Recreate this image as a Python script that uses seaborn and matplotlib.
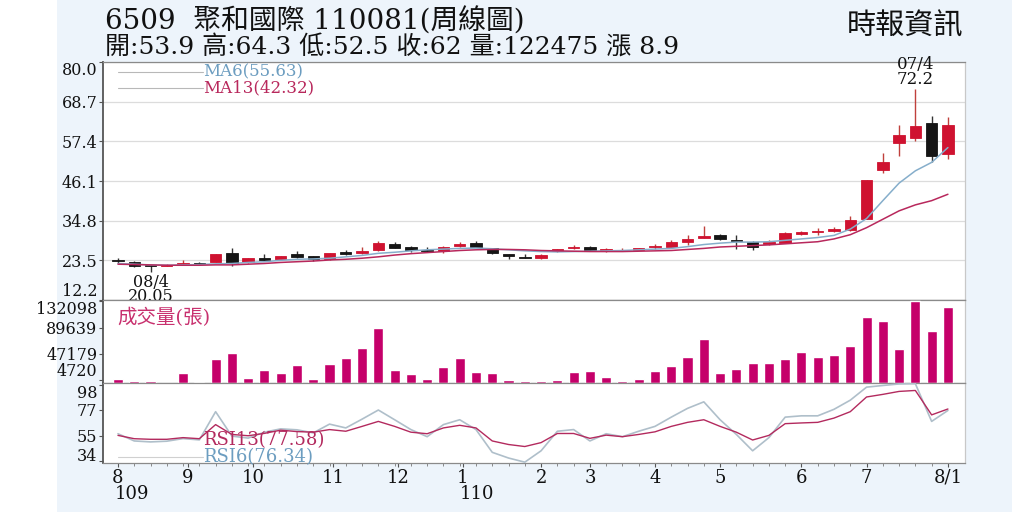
import numpy as np
import pandas as pd
import seaborn as sns
import matplotlib.pyplot as plt
from matplotlib.patches import Rectangle
from matplotlib.transforms import blended_transform_factory

# weekly candles, 6509 聚和國際 (109/08 ~ 110/08)
opens = [23.6, 22.9, 22.1, 22.0, 22.4, 22.7, 23.1, 25.5, 23.1, 24.3,
         23.9, 25.2, 24.6, 23.8, 25.9, 25.5, 26.4, 28.1, 27.4, 26.4,
         26.1, 27.6, 28.3, 26.9, 25.2, 24.5, 24.1, 26.1, 27.0, 27.2,
         26.1, 26.3, 26.5, 27.2, 27.4, 28.8, 30.0, 30.8, 29.4, 28.8,
         28.1, 28.5, 30.9, 31.5, 31.9, 32.1, 35.4, 49.3, 56.8, 58.3,
         62.5, 53.9]
highs = [24.2, 23.3, 22.3, 22.4, 23.5, 22.9, 25.3, 26.9, 24.2, 25.2,
         24.8, 26.2, 24.7, 25.6, 26.5, 27.2, 29.0, 28.8, 27.6, 27.2,
         27.6, 28.8, 29.0, 27.1, 25.4, 25.3, 25.2, 26.8, 27.8, 27.6,
         26.9, 26.9, 27.1, 28.2, 29.3, 30.8, 33.3, 31.0, 30.6, 29.1,
         29.4, 31.5, 31.8, 32.8, 33.0, 36.0, 46.5, 54.0, 62.0, 72.2,
         64.5, 64.3]
lows = [22.8, 21.5, 20.05, 21.8, 22.2, 22.3, 23.0, 22.0, 22.6, 23.3,
        23.8, 24.2, 23.4, 23.6, 25.0, 25.3, 26.3, 26.9, 25.9, 26.0,
        25.6, 27.3, 27.2, 25.4, 23.8, 24.2, 23.9, 26.0, 26.6, 26.1,
        25.9, 26.1, 26.4, 26.8, 27.3, 27.9, 29.8, 29.3, 26.7, 26.4,
        27.9, 28.3, 30.7, 30.6, 31.6, 31.9, 35.2, 48.3, 53.1, 57.6,
        51.4, 52.5]
closes = [23.4, 22.0, 21.8, 22.2, 22.6, 22.5, 25.3, 22.6, 24.1, 23.5,
          24.7, 24.4, 24.0, 25.5, 25.2, 26.2, 28.3, 27.1, 26.5, 26.2,
          27.4, 28.1, 27.4, 25.5, 24.6, 24.3, 25.0, 26.6, 27.1, 26.4,
          26.7, 26.4, 26.9, 27.4, 28.6, 29.5, 30.4, 29.5, 28.9, 27.4,
          28.8, 31.3, 31.5, 31.6, 32.5, 35.1, 46.4, 51.6, 59.2, 61.7,
          53.1, 62.0]
ma6 = [22.6, 22.4, 22.2, 22.1, 22.2, 22.3, 22.5, 22.6, 22.9, 23.1,
       23.5, 23.8, 23.9, 24.1, 24.5, 24.9, 25.5, 25.8, 26.2, 26.5,
       26.7, 26.9, 27.0, 26.8, 26.5, 26.2, 26.0, 25.9, 26.0, 26.1,
       26.2, 26.3, 26.5, 26.7, 26.9, 27.4, 28.0, 28.4, 28.7, 28.7,
       28.8, 29.2, 29.6, 30.0, 30.6, 32.4, 35.4, 40.5, 45.5, 49.0,
       51.4, 55.63]
ma13 = [22.4, 22.3, 22.2, 22.1, 22.1, 22.1, 22.2, 22.2, 22.4, 22.6,
        22.9, 23.1, 23.3, 23.6, 23.8, 24.1, 24.5, 25.0, 25.4, 25.7,
        26.0, 26.3, 26.5, 26.6, 26.6, 26.5, 26.3, 26.2, 26.1, 26.0,
        26.0, 26.0, 26.1, 26.2, 26.3, 26.6, 26.9, 27.3, 27.5, 27.7,
        27.9, 28.2, 28.5, 28.8, 29.6, 30.8, 32.8, 35.2, 37.6, 39.3,
        40.5, 42.32]
volume = [6600, 3800, 2700, 600, 17000, 1000, 39100, 49000, 7600, 20300,
          17000, 29200, 6600, 30900, 40800, 57300, 88700, 21000, 14400, 6600,
          26400, 40100, 18200, 17000, 5000, 3800, 2700, 5000, 17600, 19300,
          10500, 2700, 6100, 19800, 27000, 42900, 71500, 16000, 23100, 31900,
          32500, 38500, 50600, 42400, 45100, 60500, 107300, 100200, 55000, 132098,
          84800, 122475]
rsi13 = [55.3, 52.5, 52.0, 52.0, 53.4, 52.5, 64.4, 56.1, 55.0, 57.0,
         59.7, 58.5, 58.0, 60.2, 58.8, 62.9, 67.1, 62.9, 58.0, 56.7,
         61.6, 63.8, 61.6, 50.6, 47.6, 45.9, 49.2, 56.9, 56.9, 52.8,
         55.5, 54.2, 56.1, 58.3, 62.9, 66.3, 68.5, 62.9, 58.0, 51.4,
         55.3, 65.2, 65.8, 66.3, 69.9, 75.3, 87.7, 89.9, 92.4, 93.2,
         72.6, 77.58]
rsi6 = [56.7, 50.6, 49.8, 50.4, 52.6, 51.5, 75.3, 54.7, 53.0, 58.0,
        60.8, 60.0, 57.4, 64.8, 61.6, 69.0, 76.7, 68.5, 60.2, 54.2,
        64.4, 68.5, 60.2, 41.0, 36.2, 32.7, 42.3, 58.8, 60.2, 50.6,
        56.7, 54.2, 58.8, 62.9, 70.7, 78.1, 83.6, 68.5, 56.1, 42.3,
        53.4, 70.7, 71.8, 71.8, 77.3, 85.0, 96.0, 97.4, 98.7, 98.9,
        67.1, 76.34]

price_ticks = [12.2, 23.5, 34.8, 46.1, 57.4, 68.7, 80.0]
vol_ticks = [4720, 47179, 89639, 132098]
rsi_ticks = [34, 55, 77, 98]
month_pos = [0, 4.3, 8.3, 13.2, 17.2, 21.2, 26, 29, 33, 37, 42, 46, 51]
month_labels = ['8', '9', '10', '11', '12', '1', '2', '3', '4', '5', '6', '7', '8/1']
year_marks = [(0, '109'), (21.2, '110')]

low_date = '08/4'
high_date = '07/4'

df = pd.DataFrame({'o': opens, 'h': highs, 'l': lows, 'c': closes,
                   'ma6': ma6, 'ma13': ma13, 'vol': volume,
                   'rsi13': rsi13, 'rsi6': rsi6})
df['i'] = np.arange(len(df))

RED = '#CF1230'
BLACK = '#151515'
VOLC = '#C5006A'
MA6C = '#86AECB'
MA13C = '#B8285C'
RSI6C = '#AFBFCA'
RSI13C = '#B32A5E'
LBLUE = '#6C9DC0'

sns.set_theme(style='white')
plt.rcParams['font.family'] = ['DejaVu Serif', 'Noto Sans CJK TC']

fig = plt.figure(figsize=(10.24, 5.12), dpi=100)
fig.patch.set_facecolor('white')
fig.add_artist(Rectangle((57 / 1024, 0), 955 / 1024, 1, transform=fig.transFigure,
                         facecolor='#EDF4FB', edgecolor='none', zorder=0))

L, W = 103 / 1024, 862 / 1024
ax1 = fig.add_axes([L, 1 - 300 / 512, W, 238 / 512])
ax2 = fig.add_axes([L, 1 - 383 / 512, W, 83 / 512])
ax3 = fig.add_axes([L, 1 - 463 / 512, W, 80 / 512])

# candles
up = df['c'] >= df['o']
colors = np.where(up, RED, BLACK)
wick = np.where(up, '#C0403C', '#333333')
ax1.vlines(df['i'], df['l'], df['h'], colors=wick, lw=1.0, zorder=2)
body_h = np.maximum((df['c'] - df['o']).abs(), 0.25)
ax1.bar(df['i'], body_h, bottom=np.minimum(df['o'], df['c']), width=0.7,
        color=colors, edgecolor=colors, lw=0.6, zorder=3)
sns.lineplot(data=df, x='i', y='ma6', ax=ax1, color=MA6C, lw=1.1, zorder=4)
sns.lineplot(data=df, x='i', y='ma13', ax=ax1, color=MA13C, lw=1.1, zorder=4)

# min / max notes
imin = int(df['l'].idxmin())
imax = int(df['h'].idxmax())
ax1.annotate(f"{low_date}\n{df['l'][imin]:.2f}", (imin, df['l'][imin]),
             xytext=(0, -1), textcoords='offset points', ha='center', va='top',
             fontsize=11.5, color='#111111', linespacing=0.78)
ax1.annotate(f"{high_date}\n{df['h'][imax]:.1f}", (imax, df['h'][imax]),
             xytext=(0, 1), textcoords='offset points', ha='center', va='bottom',
             fontsize=12, color='#111111', linespacing=0.85)

ax1.plot([0.017, 0.116], [0.958, 0.958], transform=ax1.transAxes, color='#B8B8B8', lw=0.8)
ax1.plot([0.017, 0.116], [0.891, 0.891], transform=ax1.transAxes, color='#B8B8B8', lw=0.8)
ax1.text(0.116, 0.958, 'MA6(55.63)', transform=ax1.transAxes, color=LBLUE,
         fontsize=12, va='center', ha='left')
ax1.text(0.116, 0.891, 'MA13(42.32)', transform=ax1.transAxes, color=MA13C,
         fontsize=12, va='center', ha='left')

# volume
sns.barplot(data=df, x='i', y='vol', ax=ax2, native_scale=True, color=VOLC,
            saturation=1, width=0.62, errorbar=None, zorder=3)
ax2.text(0.017, 0.79, '成交量(張)', transform=ax2.transAxes, color='#C8306E',
         fontsize=14, va='center', ha='left')

# RSI
sns.lineplot(data=df, x='i', y='rsi6', ax=ax3, color=RSI6C, lw=1.2, zorder=3)
sns.lineplot(data=df, x='i', y='rsi13', ax=ax3, color=RSI13C, lw=1.0, zorder=4)
ax3.plot([0.017, 0.116], [0.075, 0.075], transform=ax3.transAxes, color='#D0D0D0', lw=0.8)
ax3.text(0.116, 0.29, 'RSI13(77.58)', transform=ax3.transAxes, color=RSI13C,
         fontsize=13, va='center', ha='left', zorder=6)
ax3.text(0.116, 0.075, 'RSI6(76.34)', transform=ax3.transAxes, color=LBLUE,
         fontsize=13, va='center', ha='left', zorder=6)

xlim = (-0.92, 52.05)
for ax in (ax1, ax2, ax3):
    ax.set_xlim(*xlim)
    ax.set_facecolor('white')
    ax.set_xlabel('')
    ax.set_ylabel('')
    for s in ax.spines.values():
        s.set_color('#8A8A8A')
        s.set_linewidth(0.9)
    ax.spines['left'].set_color('#555555')
    ax.spines['left'].set_linewidth(1.3)
    ax.spines['right'].set_color('#C8C8C8')
    ax.tick_params(axis='y', which='both', left=True, length=3, width=0.8,
                   color='#555555', labelsize=11.5, pad=1, labelcolor='#111111')
    ax.tick_params(axis='x', which='both', bottom=False, labelbottom=False)

ax1.set_ylim(12.2, 80.0)
ax1.set_yticks(price_ticks, [f'{t:.1f}' for t in price_ticks])
ax1.grid(axis='y', color='#DCDCDC', lw=0.9)
ax1.grid(axis='x', visible=False)

ax2.set_ylim(0, 134500)
ax2.set_yticks(vol_ticks, [str(t) for t in vol_ticks])
ax2.grid(False)

ax3.set_ylim(32, 99.5)
ax3.set_yticks(rsi_ticks, [str(t) for t in rsi_ticks])
ax3.grid(False)

for ax, bottom_va in ((ax1, 'bottom'), (ax2, 'bottom'), (ax3, 'baseline')):
    lbls = ax.get_yticklabels()
    lbls[-1].set_va('top')
    lbls[0].set_va(bottom_va)

ax3.set_xticks(month_pos, month_labels)
ax3.set_xticks(np.arange(len(df)), minor=True)
ax3.tick_params(axis='x', which='major', bottom=True, labelbottom=True, length=3,
                width=0.8, color='#555555', labelsize=13, pad=1, labelcolor='#111111')
ax3.tick_params(axis='x', which='minor', bottom=True, length=2, width=0.6, color='#777777')

tr = blended_transform_factory(ax3.transData, ax3.transAxes)
for pos, yr in year_marks:
    ax3.text(pos - 0.2, -0.39, yr, transform=tr, ha='left', va='center',
             fontsize=13, color='#111111')

fig.text(105 / 1024, 1 - 22 / 512, '6509  聚和國際 110081(周線圖)', fontsize=20,
         va='center', ha='left', color='#111111')
fig.text(105 / 1024, 1 - 47 / 512, '開:53.9 高:64.3 低:52.5 收:62 量:122475 漲 8.9',
         fontsize=18, va='center', ha='left', color='#111111')
fig.text(963 / 1024, 1 - 26 / 512, '時報資訊', fontsize=21, va='center', ha='right',
         color='#111111')

fig.savefig('out.png', dpi=100, facecolor=fig.get_facecolor())
